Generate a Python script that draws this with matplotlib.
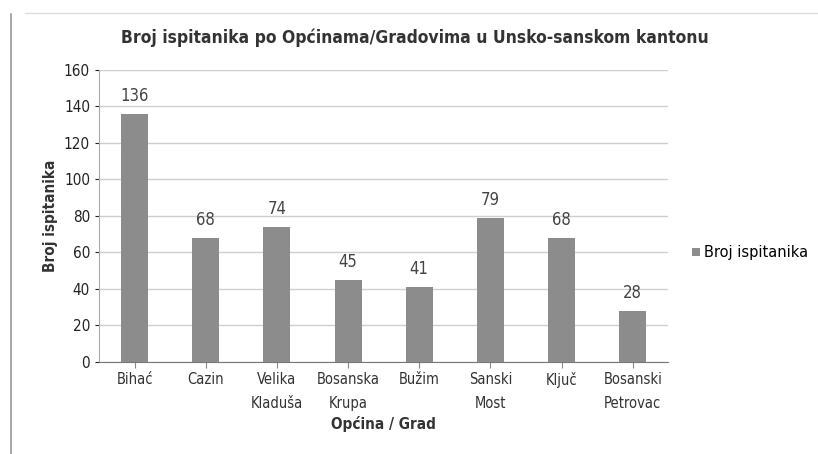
import matplotlib
matplotlib.use("Agg")
import matplotlib.pyplot as plt
from matplotlib.lines import Line2D

# broj ispitanika po opcinama
opcine = ["Bihać", "Cazin", "Velika\nKladuša", "Bosanska\nKrupa", "Bužim",
          "Sanski\nMost", "Ključ", "Bosanski\nPetrovac"]
broj = [136, 68, 74, 45, 41, 79, 68, 28]
yticks = [0, 20, 40, 60, 80, 100, 120, 140, 160]

plt.rcParams['font.family'] = ['DejaVu Sans']
plt.rcParams['font.stretch'] = 'condensed'

fig = plt.figure(figsize=(8.18, 4.54), dpi=100)
ax = fig.add_axes([0.121, 0.203, 0.696, 0.643])

x = list(range(len(opcine)))
bars = ax.bar(x, broj, width=0.38, color='#8c8c8c', zorder=3, label='Broj ispitanika')
for xi, v in zip(x, broj):
    ax.text(xi, v + 5, str(v), ha='center', va='bottom', fontsize=12, color='#444444')

ax.set_xlim(-0.5, len(opcine) - 0.5)
ax.set_ylim(0, 160)
ax.set_yticks(yticks)
ax.set_xticks(x)
ax.set_xticklabels(opcine, fontsize=10.5, color='#333333', linespacing=1.7)
ax.tick_params(axis='y', labelsize=11, colors='#222222', length=3)
ax.tick_params(axis='x', length=4, color='#888888')
ax.grid(axis='y', color='#cfcfcf', linewidth=1, zorder=0)
for s in ['top', 'right']:
    ax.spines[s].set_visible(False)
ax.spines['left'].set_color('#aaaaaa')
ax.spines['bottom'].set_color('#777777')

fig.text(0.507, 0.916, "Broj ispitanika po Općinama/Gradovima u Unsko-sanskom kantonu",
         ha='center', va='center', fontsize=12.5, fontweight='bold', color='#333333')
ax.set_ylabel("Broj ispitanika", fontsize=11, fontweight='bold', color='#333333')
ax.set_xlabel("Općina / Grad", fontsize=11, fontweight='bold', color='#333333', labelpad=4)

fig.legend(handles=[bars], loc='center left', bbox_to_anchor=(0.843, 0.443),
           frameon=False, prop={'size': 10.5, 'stretch': 'normal'},
           handlelength=0.5, handleheight=0.5, handletextpad=0.3,
           borderpad=0.1, borderaxespad=0.1)

# rubovi okvira grafikona
fig.add_artist(Line2D([0.013, 0.013], [0.0, 0.97], color='#999999', linewidth=1.2))
fig.add_artist(Line2D([0.03, 1.0], [0.972, 0.972], color='#dddddd', linewidth=1))

fig.savefig("out.png", dpi=100)
